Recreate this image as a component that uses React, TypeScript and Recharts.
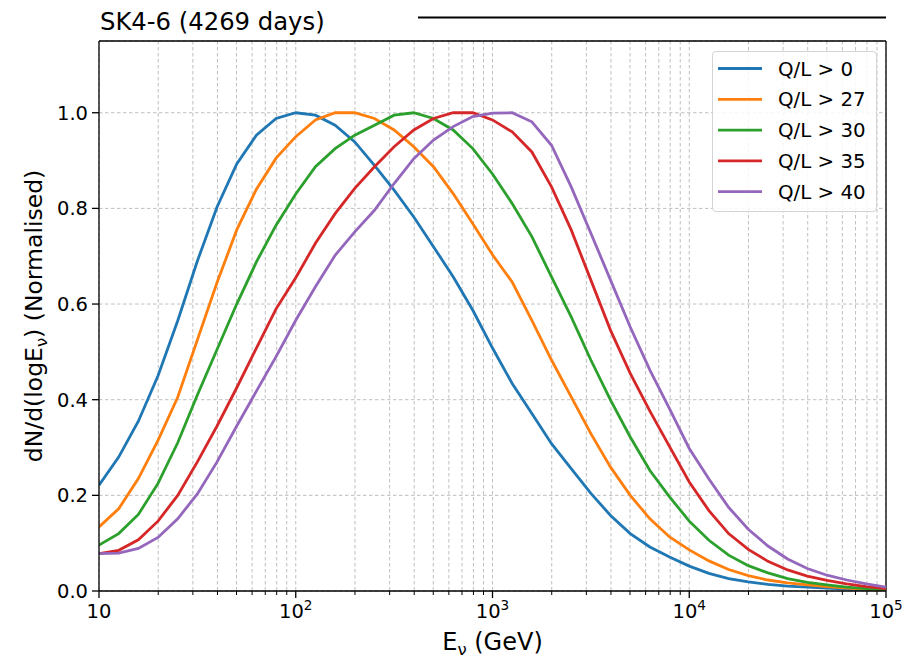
import React from 'react';
import { LineChart, Line, XAxis, YAxis, CartesianGrid, ReferenceLine } from 'recharts';

const FONT = '"DejaVu Sans", Verdana, sans-serif';

const energies = [
  10, 12.59, 15.85, 19.95, 25.12, 31.62, 39.81, 50.12, 63.1, 79.43,
  100, 125.9, 158.5, 199.5, 251.2, 316.2, 398.1, 501.2, 631, 794.3,
  1000, 1259, 1585, 1995, 2512, 3162, 3981, 5012, 6310, 7943,
  10000, 12590, 15850, 19950, 25120, 31620, 39810, 50120, 63100, 79430, 100000,
];

const ql0 = [
  0.221, 0.28, 0.355, 0.45, 0.565, 0.69, 0.803, 0.893, 0.953, 0.988,
  1.0, 0.995, 0.974, 0.939, 0.89, 0.838, 0.782, 0.72, 0.657, 0.587,
  0.508, 0.434, 0.371, 0.308, 0.256, 0.204, 0.158, 0.12, 0.092, 0.071,
  0.052, 0.037, 0.026, 0.019, 0.014, 0.01, 0.008, 0.006, 0.004, 0.003, 0.002,
];
const ql27 = [
  0.134, 0.172, 0.235, 0.315, 0.405, 0.525, 0.645, 0.755, 0.84, 0.905,
  0.95, 0.985, 1.0, 1.0, 0.988, 0.964, 0.929, 0.887, 0.831, 0.768,
  0.703, 0.646, 0.566, 0.483, 0.406, 0.329, 0.259, 0.2, 0.151, 0.113,
  0.086, 0.063, 0.045, 0.032, 0.023, 0.017, 0.013, 0.009, 0.006, 0.004, 0.002,
];
const ql30 = [
  0.096, 0.12, 0.16, 0.225, 0.31, 0.41, 0.505, 0.6, 0.688, 0.765,
  0.83, 0.887, 0.925, 0.953, 0.974, 0.995, 1.0, 0.988, 0.964, 0.925,
  0.872, 0.81, 0.741, 0.657, 0.573, 0.483, 0.399, 0.322, 0.252, 0.197,
  0.146, 0.106, 0.075, 0.053, 0.038, 0.026, 0.018, 0.013, 0.008, 0.005, 0.003,
];
const ql35 = [
  0.078, 0.085, 0.107, 0.146, 0.2, 0.27, 0.345, 0.425, 0.508, 0.59,
  0.655, 0.727, 0.789, 0.842, 0.887, 0.929, 0.964, 0.988, 1.0, 1.0,
  0.985, 0.96, 0.918, 0.845, 0.755, 0.65, 0.545, 0.455, 0.376, 0.302,
  0.228, 0.168, 0.12, 0.087, 0.062, 0.044, 0.031, 0.022, 0.015, 0.009, 0.005,
];
const ql40 = [
  0.078, 0.079, 0.089, 0.112, 0.151, 0.203, 0.27, 0.345, 0.418, 0.49,
  0.566, 0.636, 0.702, 0.751, 0.796, 0.852, 0.904, 0.943, 0.971, 0.992,
  0.999, 1.0, 0.981, 0.932, 0.845, 0.748, 0.65, 0.552, 0.462, 0.381,
  0.298, 0.234, 0.175, 0.129, 0.094, 0.067, 0.047, 0.033, 0.023, 0.015, 0.008,
];

const seriesKeys = ['s0', 's27', 's30', 's35', 's40'];
const seriesNames = ['Q/L > 0', 'Q/L > 27', 'Q/L > 30', 'Q/L > 35', 'Q/L > 40'];
const seriesColors = ['#1f77b4', '#ff7f0e', '#2ca02c', '#d62728', '#9467bd'];
const seriesValues = [ql0, ql27, ql30, ql35, ql40];

const xMajorTicks = [10, 100, 1000, 10000, 100000];
const xMinorTicks = [
  20, 30, 40, 50, 60, 70, 80, 90,
  200, 300, 400, 500, 600, 700, 800, 900,
  2000, 3000, 4000, 5000, 6000, 7000, 8000, 9000,
  20000, 30000, 40000, 50000, 60000, 70000, 80000, 90000,
];
const xAllTicks = [...xMajorTicks, ...xMinorTicks].sort((a, b) => a - b);
const yTicks = [0, 0.2, 0.4, 0.6, 0.8, 1.0];

const title = 'SK4-6 (4269 days)';

const data = energies.map((e, i) => {
  const row: Record<string, number> = { e };
  seriesKeys.forEach((k, j) => {
    row[k] = seriesValues[j][i];
  });
  return row;
});

const XTick = (props: any) => {
  const { x, y, payload } = props;
  const v = payload.value;
  const major = xMajorTicks.includes(v);
  const exp = Math.round(Math.log10(v));
  return (
    <g>
      <line x1={x} x2={x} y1={y} y2={y + (major ? 7 : 4)} stroke="#000" strokeWidth={major ? 1.3 : 1} />
      {major && (
        <text x={x} y={y + 27} textAnchor="middle" fontSize={19.5} fill="#000" fontFamily={FONT}>
          {exp === 1 ? (
            '10'
          ) : (
            <>
              <tspan>10</tspan>
              <tspan dy={-8} fontSize={13.6}>{String(exp)}</tspan>
            </>
          )}
        </text>
      )}
    </g>
  );
};

const XLabel = (props: any) => {
  const vb = props.viewBox || {};
  const cx = vb.x + vb.width / 2;
  const by = vb.y + 59;
  return (
    <text x={cx} y={by} textAnchor="middle" fontSize={24} fill="#000" fontFamily={FONT}>
      <tspan>E</tspan>
      <tspan dy={5} fontSize={16.5}>ν</tspan>
      <tspan dy={-5}> (GeV)</tspan>
    </text>
  );
};

const YLabel = (props: any) => {
  const vb = props.viewBox || {};
  const cy = vb.y + vb.height / 2;
  const bx = 42;
  return (
    <text
      x={bx}
      y={cy}
      transform={`rotate(-90, ${bx}, ${cy})`}
      textAnchor="middle"
      fontSize={23.5}
      fill="#000"
      fontFamily={FONT}
    >
      <tspan>dN/d(logE</tspan>
      <tspan dy={5} fontSize={16.5}>ν</tspan>
      <tspan dy={-5}>) (Normalised)</tspan>
    </text>
  );
};

export default function App() {
  return (
    <div style={{ position: 'absolute', left: 0, top: 0, width: 906, height: 660, background: '#fff', fontFamily: FONT }}>
      <LineChart
        width={906}
        height={660}
        data={data}
        margin={{ top: 41, right: 20, bottom: 0, left: 0 }}
      >
        <CartesianGrid stroke="#b8b8b8" strokeDasharray="3.5 2.5" strokeWidth={0.9} />
        <XAxis
          dataKey="e"
          type="number"
          scale="log"
          domain={[10, 100000]}
          ticks={xAllTicks}
          interval={0}
          allowDataOverflow
          height={69}
          tickSize={0}
          tickMargin={0}
          tickLine={false}
          axisLine={{ stroke: '#000', strokeWidth: 1.3 }}
          tick={<XTick />}
          label={<XLabel />}
        />
        <YAxis
          type="number"
          domain={[0, 1.15]}
          ticks={yTicks}
          interval={0}
          allowDataOverflow
          width={99}
          tickSize={7}
          tickMargin={4}
          tickLine={{ stroke: '#000', strokeWidth: 1.3 }}
          axisLine={{ stroke: '#000', strokeWidth: 1.3 }}
          tick={{ fontSize: 19.5, fill: '#000', fontFamily: FONT }}
          tickFormatter={(v: number) => v.toFixed(1)}
          label={<YLabel />}
        />
        <ReferenceLine y={1.15} stroke="#000" strokeWidth={1.3} />
        <ReferenceLine x={100000} stroke="#000" strokeWidth={1.3} />
        {seriesKeys.map((k, j) => (
          <Line
            key={k}
            type="linear"
            dataKey={k}
            name={seriesNames[j]}
            stroke={seriesColors[j]}
            strokeWidth={2.8}
            dot={false}
            isAnimationActive={false}
          />
        ))}
      </LineChart>

      <svg
        width={906}
        height={40}
        style={{ position: 'absolute', left: 0, top: 0, pointerEvents: 'none' }}
      >
        <text x={100} y={30} fontSize={24.3} fill="#000" fontFamily={FONT}>
          {title}
        </text>
        <line x1={418} x2={886} y1={17.5} y2={17.5} stroke="#000" strokeWidth={2.2} />
      </svg>

      <div
        style={{
          position: 'absolute',
          left: 712,
          top: 51,
          width: 165,
          height: 161,
          boxSizing: 'border-box',
          border: '1px solid #d4d4d4',
          borderRadius: 4,
          background: 'rgba(255,255,255,0.85)',
        }}
      >
        <svg width={163} height={159} style={{ position: 'absolute', left: 0, top: 0 }}>
          {seriesNames.map((n, j) => {
            const cy = 16.5 + j * 30.8;
            return (
              <g key={n}>
                <line x1={5} x2={49} y1={cy} y2={cy} stroke={seriesColors[j]} strokeWidth={2.8} />
                <text x={65} y={cy + 7} fontSize={19.8} fill="#000" fontFamily={FONT}>
                  {n}
                </text>
              </g>
            );
          })}
        </svg>
      </div>
    </div>
  );
}
